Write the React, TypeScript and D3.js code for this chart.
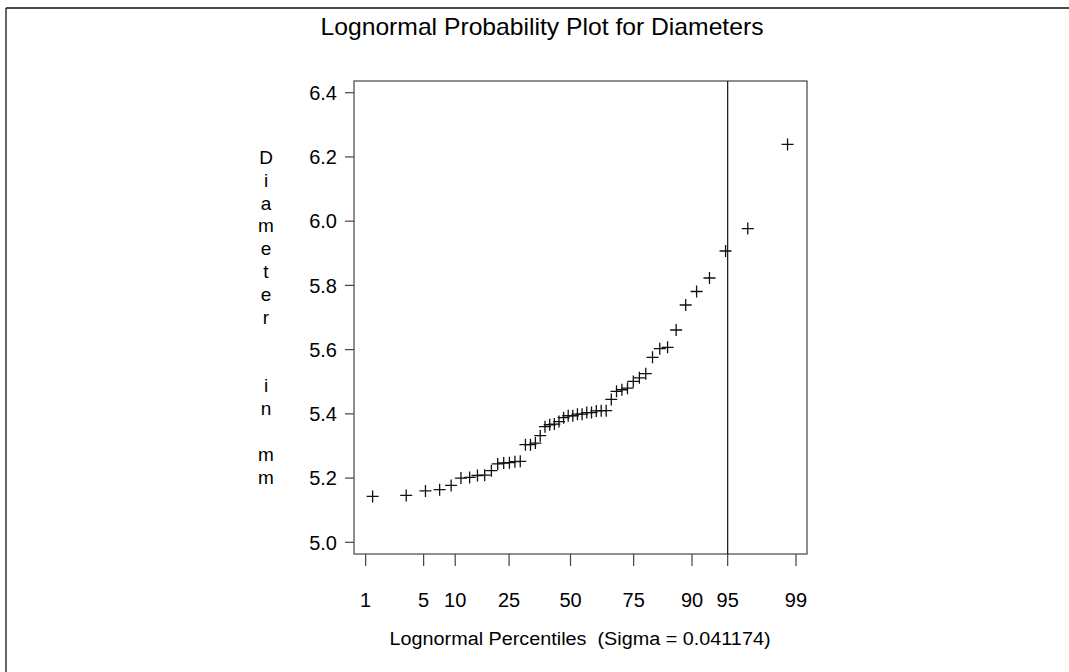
import React from 'react';
import * as d3 from 'd3';

// diameters in mm (sorted), n = 50
const diameters = [
  5.143, 5.146, 5.160, 5.164, 5.177, 5.200, 5.202, 5.208, 5.209, 5.223,
  5.244, 5.247, 5.248, 5.251, 5.252, 5.304, 5.304, 5.309, 5.332, 5.360,
  5.366, 5.368, 5.376, 5.388, 5.394, 5.394, 5.399, 5.399, 5.404, 5.404,
  5.409, 5.410, 5.410, 5.445, 5.470, 5.475, 5.480, 5.501, 5.512, 5.525,
  5.576, 5.603, 5.607, 5.661, 5.739, 5.781, 5.823, 5.907, 5.977, 6.239,
];
const sigma = 0.041174;
const percentTicks = [1, 5, 10, 25, 50, 75, 90, 95, 99];
const yTicks = [5.0, 5.2, 5.4, 5.6, 5.8, 6.0, 6.2, 6.4];
const refPercent = 95;
const yLabel = 'Diameter  in mm';

// inverse normal cdf (Acklam)
function qnorm(p: number) {
  const a = [-39.69683028665376, 220.9460984245205, -275.9285104469687, 138.357751867269, -30.66479806614716, 2.506628277459239];
  const b = [-54.47609879822406, 161.5858368580409, -155.6989798598866, 66.80131188771972, -13.28068155288572];
  const c = [-0.007784894002430293, -0.3223964580411365, -2.400758277161838, -2.549732539343734, 4.374664141464968, 2.938163982698783];
  const d = [0.007784695709041462, 0.3224671290700398, 2.445134137142996, 3.754408661907416];
  const pl = 0.02425;
  if (p < pl) {
    const q = Math.sqrt(-2 * Math.log(p));
    return (((((c[0] * q + c[1]) * q + c[2]) * q + c[3]) * q + c[4]) * q + c[5]) /
      ((((d[0] * q + d[1]) * q + d[2]) * q + d[3]) * q + 1);
  }
  if (p > 1 - pl) {
    const q = Math.sqrt(-2 * Math.log(1 - p));
    return -(((((c[0] * q + c[1]) * q + c[2]) * q + c[3]) * q + c[4]) * q + c[5]) /
      ((((d[0] * q + d[1]) * q + d[2]) * q + d[3]) * q + 1);
  }
  const q = p - 0.5;
  const r = q * q;
  return (((((a[0] * r + a[1]) * r + a[2]) * r + a[3]) * r + a[4]) * r + a[5]) * q /
    (((((b[0] * r + b[1]) * r + b[2]) * r + b[3]) * r + b[4]) * r + 1);
}

const lognormalQ = (p: number) => Math.exp(sigma * qnorm(p));

const App = () => {
  const W = 1069, H = 672;
  const frame = { left: 354, right: 807, top: 81, bottom: 554 };
  const font = '"Liberation Sans", Arial, sans-serif';

  const x = d3.scaleLinear().domain([0.90347, 1.10544]).range([frame.left, frame.right]);
  const y = d3.scaleLinear().domain([5.0, 6.4]).range([542.3, 92.7]);

  const n = diameters.length;
  const points = diameters.map((v, i) => ({
    u: lognormalQ((i + 1 - 0.375) / (n + 0.25)),
    v,
  }));

  const letters = yLabel.split('');

  return (
    <svg width={W} height={H} style={{ position: 'absolute', left: 0, top: 0, background: '#fff' }}
      fontFamily={font}>
      {/* page border */}
      <line x1={6} y1={8} x2={W} y2={8} stroke="#111" strokeWidth={1.5} />
      <line x1={6} y1={8} x2={6} y2={H} stroke="#333" strokeWidth={1.5} />

      <text x={542} y={35} textAnchor="middle" fontSize={24} textLength={443}
        lengthAdjust="spacingAndGlyphs">Lognormal Probability Plot for Diameters</text>

      {/* frame */}
      <rect x={frame.left} y={frame.top} width={frame.right - frame.left} height={frame.bottom - frame.top}
        fill="none" stroke="#444" strokeWidth={1.2} />

      {/* y axis */}
      {yTicks.map(t => (
        <g key={t}>
          <line x1={frame.left - 9} x2={frame.left} y1={y(t)} y2={y(t)} stroke="#444" strokeWidth={1.2} />
          <text x={337} y={y(t)} dy="0.36em" textAnchor="end" fontSize={20}>{t.toFixed(1)}</text>
        </g>
      ))}
      {letters.map((ch, i) => (
        <text key={i} x={266} y={157 + i * 22.85} dy="0.36em" textAnchor="middle" fontSize={19}>{ch}</text>
      ))}

      {/* x axis */}
      {percentTicks.map(p => {
        const px = x(lognormalQ(p / 100));
        return (
          <g key={p}>
            <line x1={px} x2={px} y1={frame.bottom} y2={frame.bottom + 12} stroke="#444" strokeWidth={1.2} />
            <text x={px} y={600} dy="0.36em" textAnchor="middle" fontSize={20}>{p}</text>
          </g>
        );
      })}
      <text x={580} y={645} textAnchor="middle" fontSize={18} textLength={381}
        lengthAdjust="spacingAndGlyphs" xmlSpace="preserve">Lognormal Percentiles  (Sigma = 0.041174)</text>

      {/* reference line */}
      <line x1={x(lognormalQ(refPercent / 100))} x2={x(lognormalQ(refPercent / 100))}
        y1={frame.top} y2={frame.bottom} stroke="#111" strokeWidth={1.2} />

      {/* points */}
      {points.map((d, i) => (
        <path key={i} d={`M${x(d.u) - 6},${y(d.v)}h12M${x(d.u)},${y(d.v) - 6}v12`}
          stroke="#111" strokeWidth={1.3} fill="none" />
      ))}
    </svg>
  );
};

export default App;
